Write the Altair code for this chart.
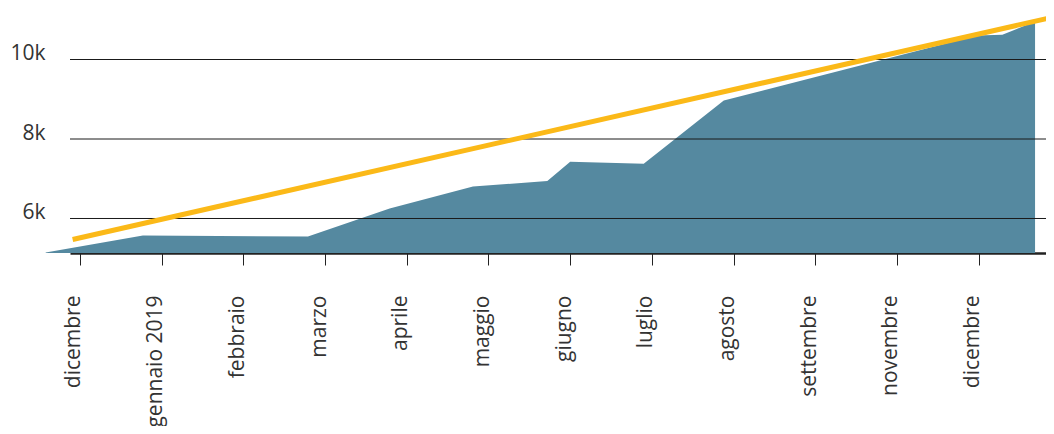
import altair as alt
import pandas as pd

# --- data ---
month_labels = ["dicembre", "gennaio 2019", "febbraio", "marzo", "aprile", "maggio",
                "giugno", "luglio", "agosto", "settembre", "novembre", "dicembre"]
tick_positions = list(range(len(month_labels)))

# area series (x in month-tick units, y in values)
area_x = [-0.42, 0.77, 2.79, 3.79, 4.81, 5.72, 6.00, 6.90, 7.88, 10.98, 11.29, 11.69]
area_y = [5145, 5573, 5548, 6252, 6806, 6944, 7427, 7377, 8969, 10604, 10622, 10956]

# target (orange) line
target_x = [-0.09, 11.89]
target_y = [5472, 11057]

grid_values = [6000, 8000, 10000]

# --- layout ---
W, H = 976, 245
x_domain = [-0.1224, 11.824]
y_domain = [5132, 11296]

area_df = pd.DataFrame({"x": area_x, "y": area_y})
target_df = pd.DataFrame({"x": target_x, "y": target_y})
grid_df = pd.DataFrame({"y": grid_values})

label_js = "[" + ",".join("'%s'" % m for m in month_labels) + "][datum.value]"

x_scale = alt.Scale(domain=x_domain, nice=False, zero=False)
y_scale = alt.Scale(domain=y_domain, nice=False, zero=False)

x_axis = alt.Axis(values=tick_positions, labelExpr=label_js,
                  grid=False, domain=True, domainColor="#222222",
                  domainWidth=2.5, ticks=True, tickColor="#222222",
                  tickWidth=1, tickSize=12, labelAngle=270,
                  labelAlign="right", labelBaseline="alphabetic",
                  labelPadding=30, labelFontSize=21, labelFlush=False,
                  labelOverlap=False, labelColor="#333333",
                  labelFont="Open Sans", title=None)
y_axis = alt.Axis(values=grid_values, labelExpr="(datum.value/1000) + 'k'",
                  grid=False, domain=False, ticks=False,
                  labelAlign="right", labelBaseline="alphabetic",
                  labelPadding=25, labelFontSize=21,
                  labelColor="#333333", labelFont="Open Sans", title=None)

area = alt.Chart(area_df).mark_area(color="#5589a0", opacity=1).encode(
    x=alt.X("x:Q", scale=x_scale, axis=x_axis),
    y=alt.Y("y:Q", scale=y_scale, axis=y_axis, stack=None),
    y2=alt.value(H),
)

grid = alt.Chart(grid_df).mark_rule(color="#1a1a1a", strokeWidth=1).encode(
    y=alt.Y("y:Q", scale=y_scale, axis=y_axis),
    x=alt.value(0),
    x2=alt.value(W),
)

target = alt.Chart(target_df).mark_line(color="#fbb918", strokeWidth=5,
                                        strokeCap="butt").encode(
    x=alt.X("x:Q", scale=x_scale, axis=x_axis),
    y=alt.Y("y:Q", scale=y_scale, axis=y_axis),
)

chart = alt.layer(area, grid, target).properties(
    width=W, height=H,
    padding={"left": 62, "top": 0, "right": 0, "bottom": 173},
    autosize=alt.AutoSizeParams(type="none"),
).configure_view(stroke=None)

chart.save("out.html", embed_options={"renderer": "svg", "actions": False})
